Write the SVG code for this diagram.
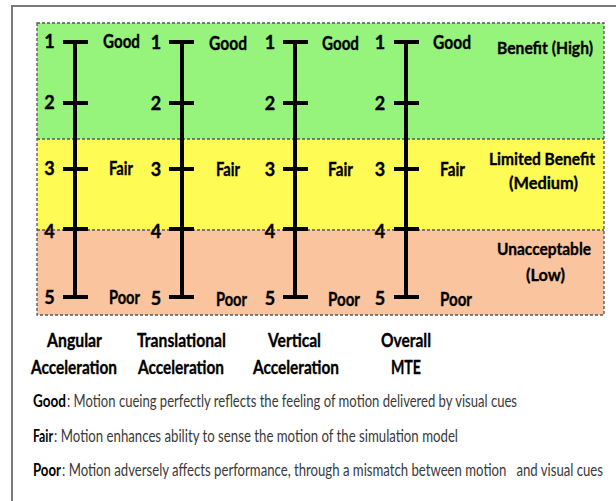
<svg xmlns="http://www.w3.org/2000/svg" width="616" height="501" viewBox="0 0 616 501">
<style>
.b{font-family:Lato,"Liberation Sans",sans-serif;font-weight:bold;fill:#000;stroke:#000;stroke-width:0.35}
.n{font-size:18px;text-anchor:middle}
.l{font-size:19px}
.r{font-size:17.5px}
.c{font-size:19.5px}
.d{font-family:Lato,"Liberation Sans",sans-serif;font-size:16.5px;fill:#3a3a3a;white-space:pre}
.dl{font-family:Lato,"Liberation Sans",sans-serif;font-size:16.5px;font-weight:bold;fill:#000}
.axis{stroke:#000;stroke-width:4;fill:none}
.dash{stroke:#555;stroke-width:1.3;stroke-dasharray:3 2;fill:none}
</style>
<rect x="0" y="0" width="616" height="501" fill="#fff"/>
<path d="M12,501 V6 H616" stroke="#7a7a7a" stroke-width="2" fill="none"/>
<g id="bands">
<rect x="37" y="23" width="567" height="116" fill="#96f37b"/>
<rect x="37" y="139" width="567" height="91" fill="#fffb55"/>
<rect x="37" y="230" width="567" height="85" fill="#f9c49e"/>
<rect class="dash" x="37" y="23" width="567" height="292"/>
<line class="dash" x1="37" y1="139" x2="604" y2="139"/>
<line class="dash" x1="37" y1="230" x2="604" y2="230"/>
</g>
<g id="connectors">
<path class="axis" d="M75,42 V297 M63,42 H88 M63,103 H88 M63,169 H88 M63,229 H88 M63,297 H88"/>
<path class="axis" d="M182,42 V297 M169,42 H194 M169,103 H194 M169,169 H194 M169,229 H194 M169,297 H194"/>
<path class="axis" d="M295,42 V297 M283,42 H308 M283,103 H308 M283,169 H308 M283,229 H308 M283,297 H308"/>
<path class="axis" d="M406,42 V297 M394,42 H419 M394,103 H419 M394,169 H419 M394,229 H419 M394,297 H419"/>
</g>
<g id="axis-angular">
<text class="b n" x="49.5" y="48">1</text>
<text class="b n" x="49.5" y="109">2</text>
<text class="b n" x="49.5" y="175">3</text>
<text class="b n" x="49.5" y="238">4</text>
<text class="b n" x="49.5" y="304">5</text>
<text class="b l" transform="matrix(0.8 0 0 1 103 48)" textLength="46.25" lengthAdjust="spacingAndGlyphs">Good</text>
<text class="b l" transform="matrix(0.8 0 0 1 109 175)" textLength="30" lengthAdjust="spacingAndGlyphs">Fair</text>
<text class="b l" transform="matrix(0.8 0 0 1 109 304)" textLength="38.75" lengthAdjust="spacingAndGlyphs">Poor</text>
<text class="b c" transform="matrix(0.8 0 0 1 47 347)" textLength="68.75" lengthAdjust="spacingAndGlyphs">Angular</text>
<text class="b c" transform="matrix(0.8 0 0 1 31 374)" textLength="107.5" lengthAdjust="spacingAndGlyphs">Acceleration</text>
</g>
<g id="axis-translational">
<text class="b n" x="156" y="49">1</text>
<text class="b n" x="156" y="110">2</text>
<text class="b n" x="156" y="176">3</text>
<text class="b n" x="156" y="238">4</text>
<text class="b n" x="156" y="305">5</text>
<text class="b l" transform="matrix(0.8 0 0 1 209 50)" textLength="47.5" lengthAdjust="spacingAndGlyphs">Good</text>
<text class="b l" transform="matrix(0.8 0 0 1 216 176)" textLength="30" lengthAdjust="spacingAndGlyphs">Fair</text>
<text class="b l" transform="matrix(0.8 0 0 1 216 306)" textLength="38.75" lengthAdjust="spacingAndGlyphs">Poor</text>
<text class="b c" transform="matrix(0.8 0 0 1 137 347)" textLength="111.25" lengthAdjust="spacingAndGlyphs">Translational</text>
<text class="b c" transform="matrix(0.8 0 0 1 138 374)" textLength="107.5" lengthAdjust="spacingAndGlyphs">Acceleration</text>
</g>
<g id="axis-vertical">
<text class="b n" x="270" y="49">1</text>
<text class="b n" x="270" y="110">2</text>
<text class="b n" x="270" y="176">3</text>
<text class="b n" x="270" y="238">4</text>
<text class="b n" x="270" y="305">5</text>
<text class="b l" transform="matrix(0.8 0 0 1 322 50)" textLength="46.25" lengthAdjust="spacingAndGlyphs">Good</text>
<text class="b l" transform="matrix(0.8 0 0 1 328 176)" textLength="31.25" lengthAdjust="spacingAndGlyphs">Fair</text>
<text class="b l" transform="matrix(0.8 0 0 1 328 306)" textLength="40" lengthAdjust="spacingAndGlyphs">Poor</text>
<text class="b c" transform="matrix(0.8 0 0 1 268 347)" textLength="66.25" lengthAdjust="spacingAndGlyphs">Vertical</text>
<text class="b c" transform="matrix(0.8 0 0 1 253 374)" textLength="107.5" lengthAdjust="spacingAndGlyphs">Acceleration</text>
</g>
<g id="axis-overall">
<text class="b n" x="380" y="49">1</text>
<text class="b n" x="380" y="110">2</text>
<text class="b n" x="380" y="176">3</text>
<text class="b n" x="380" y="238">4</text>
<text class="b n" x="380" y="305">5</text>
<text class="b l" transform="matrix(0.8 0 0 1 433 49)" textLength="47.5" lengthAdjust="spacingAndGlyphs">Good</text>
<text class="b l" transform="matrix(0.8 0 0 1 440 176)" textLength="31.25" lengthAdjust="spacingAndGlyphs">Fair</text>
<text class="b l" transform="matrix(0.8 0 0 1 440 306)" textLength="40" lengthAdjust="spacingAndGlyphs">Poor</text>
<text class="b c" transform="matrix(0.8 0 0 1 381 347)" textLength="62.5" lengthAdjust="spacingAndGlyphs">Overall</text>
<text class="b c" transform="matrix(0.8 0 0 1 391 374)" textLength="37.5" lengthAdjust="spacingAndGlyphs">MTE</text>
</g>
<g id="band-labels">
<text class="b r" transform="matrix(0.8 0 0 1 497 54)" textLength="120" lengthAdjust="spacingAndGlyphs">Benefit (High)</text>
<text class="b r" transform="matrix(0.8 0 0 1 489 165)" textLength="132.5" lengthAdjust="spacingAndGlyphs">Limited Benefit</text>
<text class="b r" transform="matrix(0.8 0 0 1 509 189)" textLength="86.25" lengthAdjust="spacingAndGlyphs">(Medium)</text>
<text class="b r" transform="matrix(0.8 0 0 1 497 255)" textLength="117.5" lengthAdjust="spacingAndGlyphs">Unacceptable</text>
<text class="b r" transform="matrix(0.8 0 0 1 526 281)" textLength="48.75" lengthAdjust="spacingAndGlyphs">(Low)</text>
</g>
<g id="legend">
<text class="dl" transform="matrix(0.8 0 0 1 33 407)" textLength="41.25" lengthAdjust="spacingAndGlyphs">Good</text>
<text class="d" transform="matrix(0.8 0 0 1 67 407)" textLength="562.5" lengthAdjust="spacingAndGlyphs">: Motion cueing perfectly reflects the feeling of motion delivered by visual cues</text>
<text class="dl" transform="matrix(0.8 0 0 1 33 442)" textLength="25" lengthAdjust="spacingAndGlyphs">Fair</text>
<text class="d" transform="matrix(0.8 0 0 1 54 442)" textLength="505" lengthAdjust="spacingAndGlyphs">: Motion enhances ability to sense the motion of the simulation model</text>
<text class="dl" transform="matrix(0.8 0 0 1 33 476)" textLength="35" lengthAdjust="spacingAndGlyphs">Poor</text>
<text class="d" transform="matrix(0.8 0 0 1 62 476)" textLength="676.25" lengthAdjust="spacingAndGlyphs">: Motion adversely affects performance, through a mismatch between motion   and visual cues</text>
</g>
</svg>
